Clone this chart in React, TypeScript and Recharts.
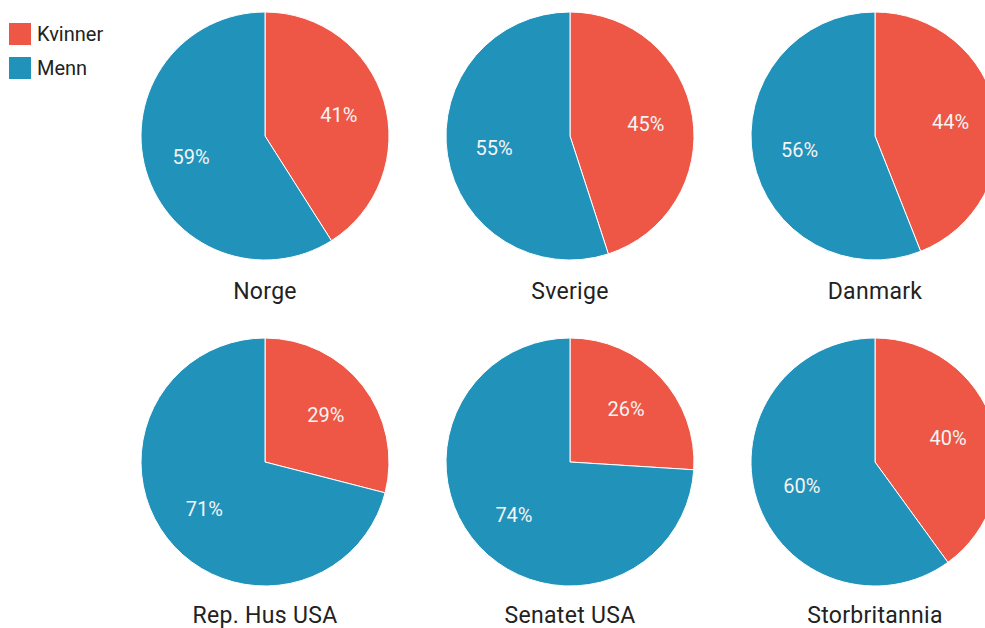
import React from "react";
import { PieChart, Pie, Cell, Legend } from "recharts";

const categories = ["Kvinner", "Menn"];
const countries = ["Norge", "Sverige", "Danmark", "Rep. Hus USA", "Senatet USA", "Storbritannia"];
const womenShare = [41, 45, 44, 29, 26, 40];
const menShare = [59, 55, 56, 71, 74, 60];
const colors = ["#EE5646", "#2192BA"];

const W = 985;
const H = 628;
const R = 124;
const colX = [265, 570, 875];
const rowY = [136, 462];
const titleY = [292, 616];

const RAD = Math.PI / 180;

const renderLabel = (props: any) => {
  const { cx, cy, midAngle, outerRadius, value } = props;
  const r = outerRadius * 0.62;
  const x = cx + r * Math.cos(-midAngle * RAD);
  const y = cy + r * Math.sin(-midAngle * RAD);
  return (
    <text x={x} y={y} fill="#f4f4f4" textAnchor="middle" dominantBaseline="central" fontSize={20} fontFamily="Roboto">
      {`${value}%`}
    </text>
  );
};

const LegendContent = () => (
  <div style={{ fontFamily: "Roboto", fontSize: 20, color: "#222" }}>
    {categories.map((c, i) => (
      <div key={c} style={{ display: "flex", alignItems: "center", height: 22, marginBottom: 12 }}>
        <div style={{ width: 22, height: 22, background: colors[i], marginRight: 6 }} />
        <span>{c}</span>
      </div>
    ))}
  </div>
);

export default function App() {
  return (
    <div style={{ position: "fixed", left: 0, top: 0, width: W, height: H, background: "#fff", overflow: "hidden" }}>
      <PieChart width={W} height={H} margin={{ top: 0, right: 0, bottom: 0, left: 0 }}>
        {countries.map((name, i) => {
          const data = [
            { name: categories[0], value: womenShare[i] },
            { name: categories[1], value: menShare[i] },
          ];
          return (
            <Pie
              key={name}
              data={data}
              dataKey="value"
              nameKey="name"
              cx={colX[i % 3]}
              cy={rowY[Math.floor(i / 3)]}
              outerRadius={R}
              innerRadius={0}
              startAngle={90}
              endAngle={-270}
              stroke="#ffffff"
              strokeWidth={1}
              label={renderLabel}
              labelLine={false}
              isAnimationActive={false}
            >
              {data.map((d, j) => (
                <Cell key={d.name} fill={colors[j]} />
              ))}
            </Pie>
          );
        })}
        <Legend
          content={<LegendContent />}
          wrapperStyle={{ position: "absolute", left: 9, top: 23, width: 120 }}
        />
      </PieChart>
      {countries.map((name, i) => (
        <div
          key={name}
          style={{
            position: "absolute",
            left: colX[i % 3] - 110,
            width: 220,
            top: titleY[Math.floor(i / 3)] - 13,
            textAlign: "center",
            fontFamily: "Roboto",
            fontSize: 23,
            letterSpacing: 0.3,
            color: "#222",
            lineHeight: "26px",
          }}
        >
          {name}
        </div>
      ))}
    </div>
  );
}
